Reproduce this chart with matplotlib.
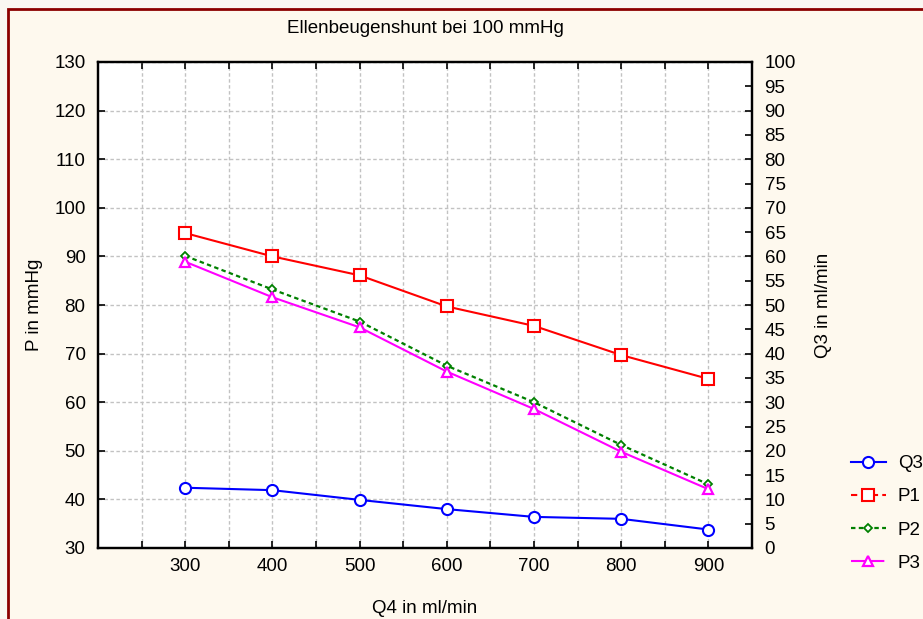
import numpy as np
import matplotlib
matplotlib.use('Agg')
import matplotlib.pyplot as plt
from matplotlib.patches import Rectangle
from matplotlib.lines import Line2D

plt.rcParams['font.family'] = ['Liberation Sans', 'DejaVu Sans']

# Flow Q4 (ml/min) and the measured series
q4 = [300, 400, 500, 600, 700, 800, 900]
q3 = [12.4, 11.9, 9.9, 8.0, 6.4, 6.0, 3.8]
p1 = [94.8, 90.0, 86.1, 79.7, 75.7, 69.7, 64.8]
p2 = [90.1, 83.2, 76.6, 67.5, 60.0, 51.2, 43.1]
p3 = [88.9, 81.6, 75.4, 66.3, 58.6, 49.8, 42.1]

FS = 13.5

fig = plt.figure(figsize=(9.23, 6.19), dpi=100)
fig.patch.set_facecolor('#faf8f2')
# panel background with dark red frame
fig.patches.append(Rectangle((8 / 923, -0.1), 1.1, 1 - 9 / 619 + 0.1,
                             transform=fig.transFigure, facecolor='#fef9ee',
                             edgecolor='#8b0000', linewidth=2, zorder=-5))

ax = fig.add_axes([98 / 923, 1 - 548 / 619, (752 - 98) / 923, (548 - 62) / 619])
ax.set_facecolor('white')
ax.set_xlim(200, 950)
ax.set_ylim(30, 130)
ax.set_xticks(np.arange(250, 951, 50))
ax.set_xticklabels([str(v) if v % 100 == 0 and 300 <= v <= 900 else '' for v in range(250, 951, 50)])
ax.set_yticks(np.arange(30, 131, 10))
ax.grid(True, color='#c2c2c2', linestyle=(0, (2.5, 1.8)), linewidth=1)
ax.set_axisbelow(True)
ax.tick_params(direction='in', length=5, width=1.2, labelsize=FS, top=True,
               pad=7, colors='black')
ax.tick_params(axis='y', pad=9)
for s in ax.spines.values():
    s.set_linewidth(1.6)

ax.plot(q4, p1, color='red', lw=1.5, marker='s', ms=8, mfc='white', mec='red', mew=1.5, zorder=3)
ax.plot(q4, p2, color='#008000', lw=1.6, linestyle=(0, (2, 1.5)), marker='D', ms=4.5,
        mfc='white', mec='#008000', mew=1.3, zorder=3)
ax.plot(q4, p3, color='magenta', lw=1.5, marker='^', ms=7, mfc='white', mec='magenta', mew=1.6, zorder=3)

ax2 = ax.twinx()
ax2.set_ylim(0, 100)
ax2.set_yticks(np.arange(0, 101, 5))
ax2.tick_params(direction='in', length=5, width=1.2, labelsize=FS, pad=9)
for s in ax2.spines.values():
    s.set_linewidth(1.6)
ax2.plot(q4, q3, color='blue', lw=1.5, marker='o', ms=8, mfc='white', mec='blue', mew=1.5, zorder=3)

ax.set_ylabel('P in mmHg', fontsize=FS, labelpad=8)
ax2.set_ylabel('Q3 in ml/min', fontsize=FS, labelpad=14)
ax.set_xlabel('Q4 in ml/min', fontsize=FS, labelpad=18)
ax.set_title('Ellenbeugenshunt bei 100 mmHg', fontsize=FS, pad=21)

handles = [
    Line2D([], [], color='blue', lw=1.5, marker='o', ms=8, mfc='white', mec='blue', mew=1.5),
    Line2D([], [], color='red', lw=1.5, linestyle=(0, (3, 2)), marker='s', ms=8, mfc='white', mec='red', mew=1.5),
    Line2D([], [], color='#008000', lw=1.6, linestyle=(0, (2, 1.5)), marker='D', ms=4.5, mfc='white', mec='#008000', mew=1.3),
    Line2D([], [], color='magenta', lw=1.5, linestyle=(0, (7, 2)), marker='^', ms=7, mfc='white', mec='magenta', mew=1.6),
]
fig.legend(handles, ['Q3', 'P1', 'P2', 'P3'], loc='upper left', bbox_to_anchor=(851 / 923, 1 - 455 / 619),
           frameon=False, fontsize=FS, handlelength=1.85, handletextpad=0.65, labelspacing=0.86,
           borderaxespad=0, borderpad=0)

fig.savefig('out.png', dpi=100, facecolor=fig.get_facecolor())
